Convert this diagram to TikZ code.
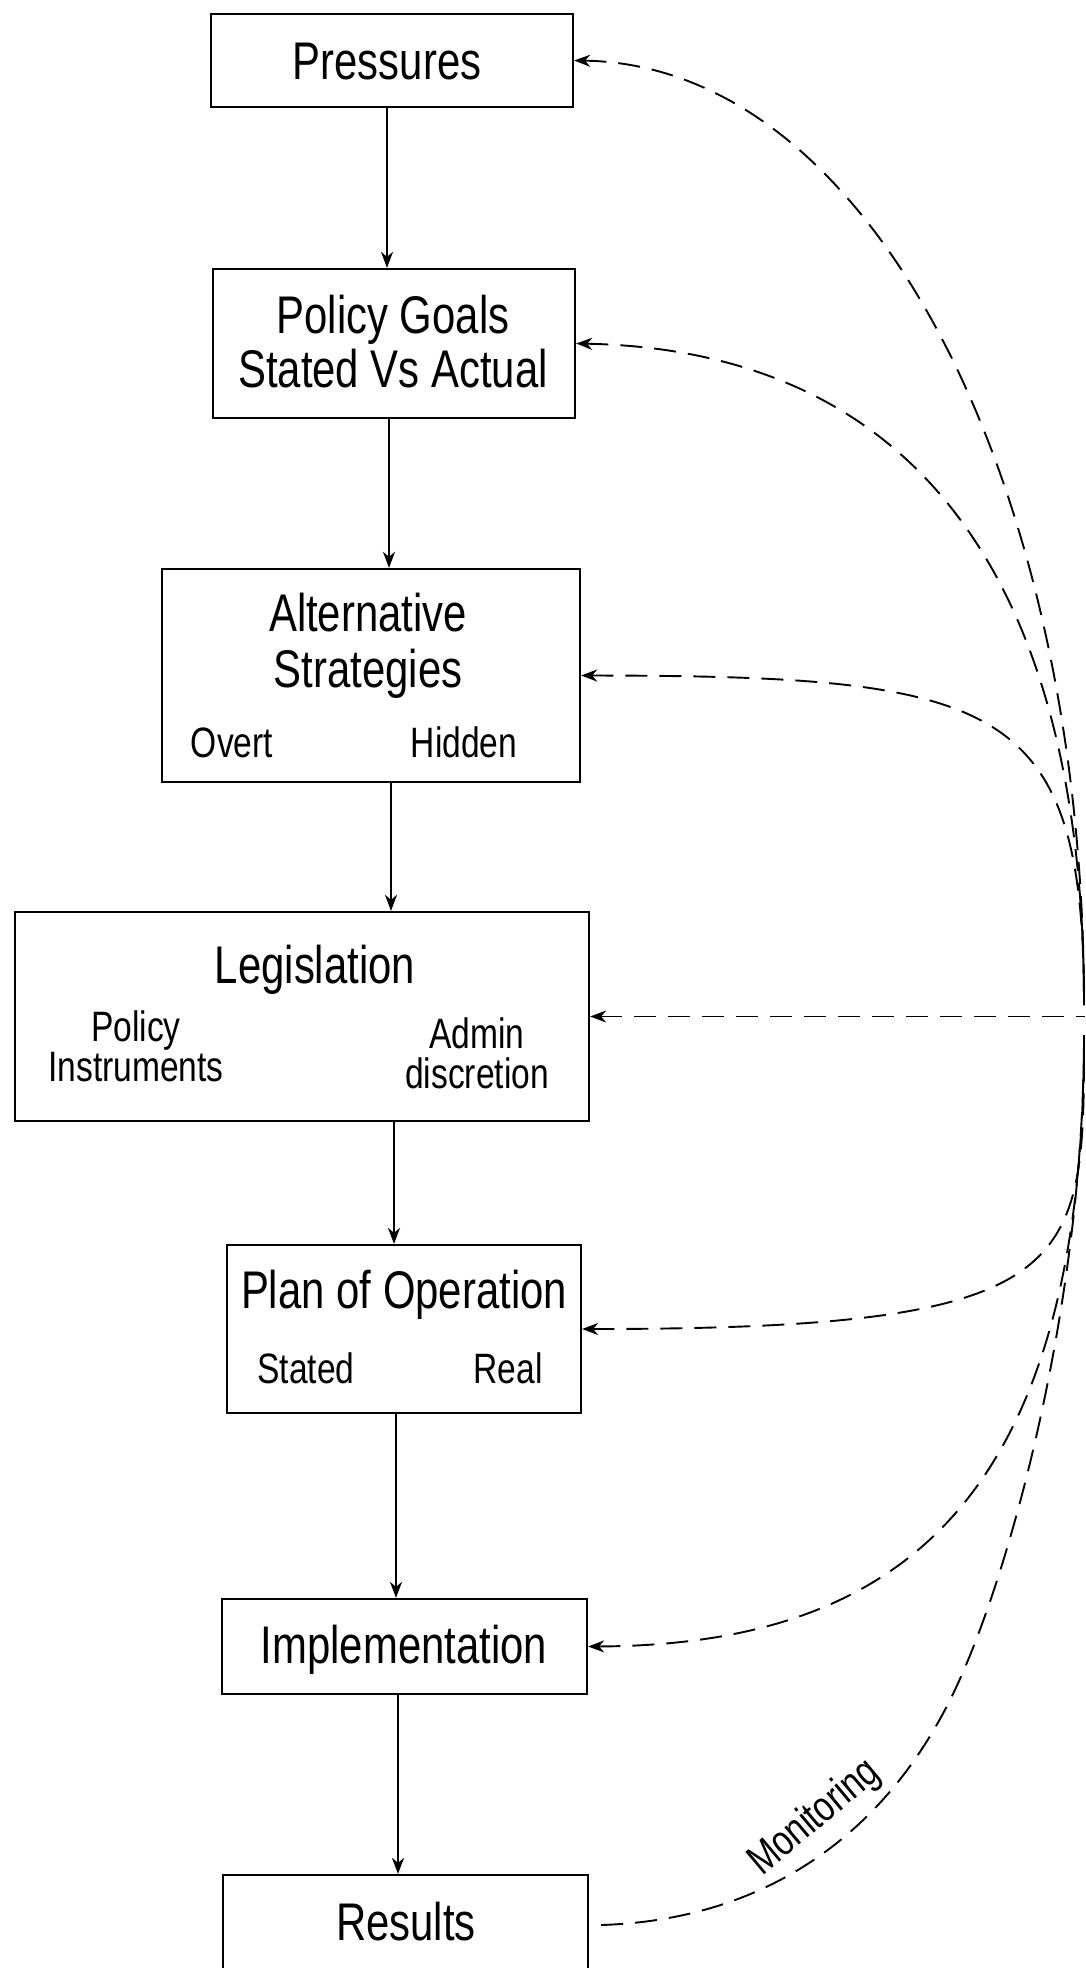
\documentclass[tikz,border=0pt]{standalone}
\usepackage{fontspec}
\setmainfont[FakeStretch=0.79]{Liberation Sans}
\usetikzlibrary{arrows.meta,calc}

\begin{document}
\begin{tikzpicture}[x=1pt,y=-1pt,
  box/.style={draw,line width=2.3pt,rectangle,inner sep=0pt},
  title/.style={font=\fontsize{53}{58}\selectfont,anchor=base,inner sep=0pt},
  sub/.style={font=\fontsize{42.5}{43}\selectfont,anchor=base,inner sep=0pt},
  flow/.style={line width=1.8pt,-{Stealth[length=16pt,width=12pt,inset=5pt]}},
  feedback/.style={line width=1.9pt,dash pattern=on 22pt off 12pt},
  fbarrow/.style={feedback,{Stealth[length=16pt,width=12pt,inset=5pt]}-},
]
\useasboundingbox (0,0) rectangle (1085,1968);

% stage boxes
\node[box,minimum width=362pt,minimum height=93pt]  (pres)  at (392,60.5)   {};
\node[box,minimum width=362pt,minimum height=149pt] (goals) at (394,343.5)  {};
\node[box,minimum width=418pt,minimum height=213pt] (strat) at (371,675.5)  {};
\node[box,minimum width=574pt,minimum height=209pt] (legis) at (302,1016.5) {};
\node[box,minimum width=354pt,minimum height=168pt] (plan)  at (404,1329)   {};
\node[box,minimum width=365pt,minimum height=95pt]  (impl)  at (404.5,1646.5) {};
\node[box,minimum width=365pt,minimum height=100pt] (res)   at (405.5,1925) {};

% box texts
\node[title] (tpres)   at (387,79)   {Pressures};
\node[title] (tgoalsa) at (393,333)  {Policy Goals};
\node[title] (tgoalsb) at (393,387)  {Stated Vs Actual};
\node[title] (tstrata) at (368,631)  {Alternative};
\node[title] (tstratb) at (368,687)  {Strategies};
\node[sub]   (tovert)  at (232,757)  {Overt};
\node[sub]   (thidden) at (464,757)  {Hidden};
\node[title] (tlegis)  at (315,983)  {Legislation};
\node[sub]   (tpola)   at (136,1041) {Policy};
\node[sub]   (tpolb)   at (136,1081) {Instruments};
\node[sub]   (tadma)   at (477,1048) {Admin};
\node[sub]   (tadmb)   at (477,1088) {discretion};
\node[title] (tplan)   at (404,1308) {Plan of Operation};
\node[sub]   (tstated) at (306,1383) {Stated};
\node[sub]   (treal)   at (508,1383) {Real};
\node[title] (timpl)   at (404,1663) {Implementation};
\node[title] (tres)    at (406,1940) {Results};

% columns of the downward flow
\coordinate (c1) at (387,0);
\coordinate (c2) at (389,0);
\coordinate (c3) at (391,0);
\coordinate (c4) at (394,0);
\coordinate (c5) at (396,0);
\coordinate (c6) at (398,0);

\draw[flow] (pres.south -| c1)  -- (goals.north -| c1);
\draw[flow] (goals.south -| c2) -- (strat.north -| c2);
\draw[flow] (strat.south -| c3) -- (legis.north -| c3);
\draw[flow] (legis.south -| c4) -- (plan.north -| c4);
\draw[flow] (plan.south -| c5)  -- (impl.north -| c5);
\draw[flow] (impl.south -| c6)  -- (res.north -| c6);

% feedback loop along the right edge
\coordinate (j1) at (1084,1005);
\coordinate (j2) at (1084,1035);
\coordinate (edge) at (1085,1016.5);
\coordinate (mbend) at (950,1700);

\draw[fbarrow] (pres.east)  .. controls (870,65) and (1084,480) .. (j1);
\draw[fbarrow] (goals.east) .. controls (900,350) and (1084,560) .. (j1);
\draw[fbarrow] (strat.east) .. controls (1000,676) and (1084,700) .. (j1);
\draw[fbarrow] (legis.east) -- (edge);
\draw[fbarrow] (plan.east)  .. controls (1084,1329) and (1084,1270) .. (j2);
\draw[fbarrow] (impl.east)  .. controls (900,1645) and (1084,1500) .. (j2);
\draw[feedback] ([xshift=12pt]res.east) .. controls (760,1920) and (880,1840) .. (mbend)
  .. controls (1010,1580) and (1084,1300) .. (j2);

\node[sub,anchor=center,rotate=40] (monit) at (815,1818) {Monitoring};
\end{tikzpicture}
\end{document}
